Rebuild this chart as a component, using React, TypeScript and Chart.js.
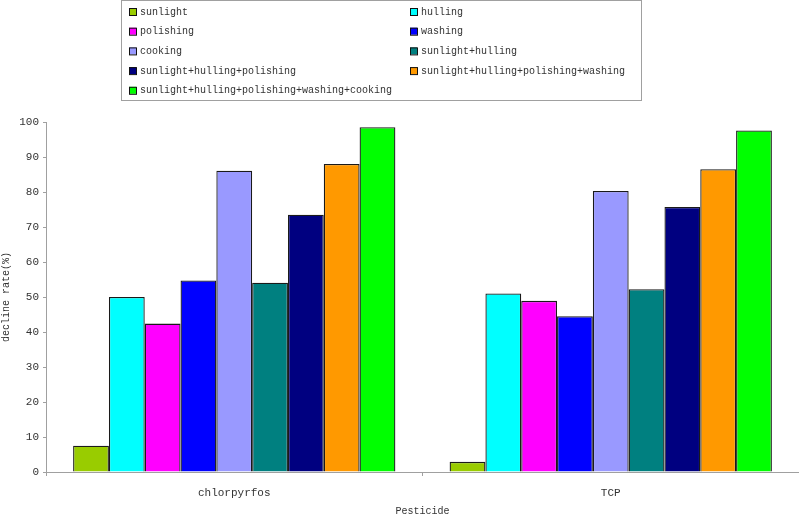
import React, { useEffect, useRef } from "react";
import { Chart, registerables } from "chart.js";

Chart.register(...registerables);

const categories = ["chlorpyrfos", "TCP"];
const seriesNames = [
  "sunlight",
  "hulling",
  "polishing",
  "washing",
  "cooking",
  "sunlight+hulling",
  "sunlight+hulling+polishing",
  "sunlight+hulling+polishing+washing",
  "sunlight+hulling+polishing+washing+cooking",
];
const seriesColors = [
  "#99CC00",
  "#00FFFF",
  "#FF00FF",
  "#0000FF",
  "#9999FF",
  "#008080",
  "#000080",
  "#FF9900",
  "#00FF00",
];
const sunlight = [7.5, 2.9];
const hulling = [50.0, 51.0];
const polishing = [42.4, 48.9];
const washing = [54.7, 44.5];
const cooking = [86.1, 80.3];
const sunlightHulling = [54.1, 52.2];
const sunlightHullingPolishing = [73.5, 75.7];
const sunlightHullingPolishingWashing = [88.0, 86.5];
const allSteps = [98.5, 97.6];
const seriesValues = [
  sunlight,
  hulling,
  polishing,
  washing,
  cooking,
  sunlightHulling,
  sunlightHullingPolishing,
  sunlightHullingPolishingWashing,
  allSteps,
];
const yTicks = [0, 10, 20, 30, 40, 50, 60, 70, 80, 90, 100];

const FONT = "'Liberation Mono', 'DejaVu Sans Mono', monospace";

const legendPlugin = {
  id: "gridLegend",
  afterDraw(chart: any) {
    const ctx = chart.ctx;
    ctx.save();
    ctx.strokeStyle = "#a0a0a0";
    ctx.lineWidth = 1;
    ctx.strokeRect(121.5, 0.5, 520, 100);
    ctx.font = `10px ${FONT}`;
    ctx.textBaseline = "middle";
    ctx.textAlign = "left";
    const colX = [129, 410];
    seriesNames.forEach((name, i) => {
      const col = i % 2;
      const row = Math.floor(i / 2);
      const y = 12 + row * 19.7;
      const x = colX[col];
      ctx.fillStyle = seriesColors[i];
      ctx.fillRect(x, y - 4, 7, 7);
      ctx.strokeStyle = "#111";
      ctx.strokeRect(x + 0.5, y - 3.5, 7, 7);
      ctx.fillStyle = "#333";
      ctx.fillText(name, x + 11, y);
    });
    ctx.restore();
  },
};

export default function App() {
  const ref = useRef<HTMLCanvasElement>(null);
  useEffect(() => {
    document.body.style.margin = "0";
    const chart = new Chart(ref.current as HTMLCanvasElement, {
      type: "bar",
      data: {
        labels: categories,
        datasets: seriesNames.map((name, i) => ({
          label: name,
          data: seriesValues[i],
          backgroundColor: seriesColors[i],
          borderColor: "#1a1a1a",
          borderWidth: 1.3,
          barPercentage: 1,
          categoryPercentage: 0.856,
        })),
      },
      options: {
        animation: false,
        responsive: false,
        maintainAspectRatio: false,
        layout: { padding: { top: 122, right: 0, left: 0, bottom: 0 } },
        plugins: {
          legend: { display: false },
          tooltip: { enabled: false },
        },
        scales: {
          x: {
            grid: { display: true, drawOnChartArea: false, tickLength: 4, color: "#a0a0a0" },
            border: { color: "#a0a0a0" },
            ticks: { color: "#333", font: { family: FONT, size: 11 }, padding: 10 },
            title: {
              display: true,
              text: "Pesticide",
              color: "#333",
              font: { family: FONT, size: 10 },
              padding: { top: 4, bottom: 0 },
            },
            afterFit(scale: any) {
              scale.height = 45;
            },
          },
          y: {
            min: 0,
            max: 100,
            grid: { display: true, drawOnChartArea: false, tickLength: 3, color: "#a0a0a0" },
            border: { color: "#a0a0a0" },
            afterBuildTicks(scale: any) {
              scale.ticks = yTicks.map((v) => ({ value: v }));
            },
            ticks: { color: "#333", font: { family: FONT, size: 11 }, padding: 4 },
            title: {
              display: true,
              text: "decline rate(%)",
              color: "#333",
              font: { family: FONT, size: 10 },
              padding: { top: 0, bottom: 0 },
            },
            afterFit(scale: any) {
              scale.width = 46;
            },
          },
        },
      },
      plugins: [legendPlugin],
    });
    return () => chart.destroy();
  }, []);
  return (
    <div style={{ width: 799, height: 517 }}>
      <canvas ref={ref} width={799} height={517} style={{ display: "block" }} />
    </div>
  );
}
